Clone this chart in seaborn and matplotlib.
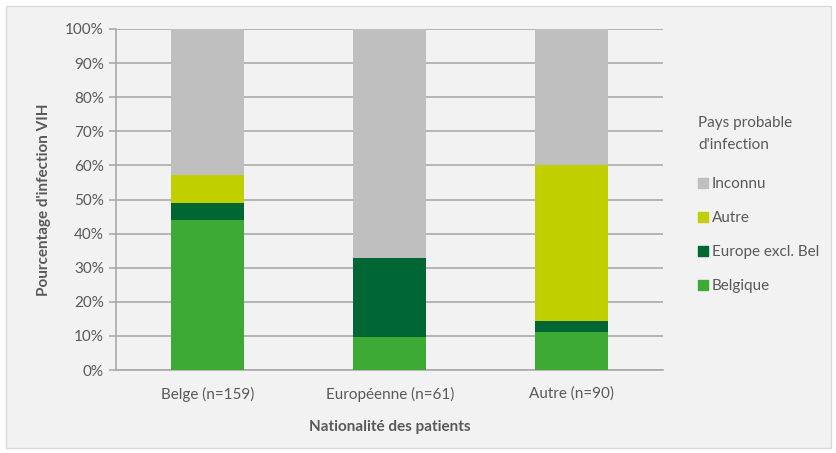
import matplotlib
matplotlib.use("Agg")
import matplotlib.pyplot as plt
from matplotlib.patches import Rectangle
from matplotlib.lines import Line2D
from matplotlib.ticker import PercentFormatter, MultipleLocator
import seaborn as sns
import pandas as pd
import numpy as np

categories = ["Belge (n=159)", "Européenne (n=61)", "Autre (n=90)"]
series_names = ["Belgique", "Europe excl. Bel", "Autre", "Inconnu"]
belgique = [44.0, 9.8, 11.1]
europe = [5.0, 23.0, 3.3]
autre = [8.2, 0.0, 45.6]
inconnu = [42.8, 67.2, 40.0]
colors = {"Belgique": "#3daa35", "Europe excl. Bel": "#006633",
          "Autre": "#bfcf00", "Inconnu": "#bfbfbf"}

txt = "#595959"
sns.set_theme(style="white")
plt.rcParams["font.family"] = ["Lato", "DejaVu Sans"]
fs = 11

fig = plt.figure(figsize=(8.37, 4.53), dpi=100)
fig.patch.set_facecolor("white")
fig.patches.append(Rectangle((6/837, 5/453), 825/837, 442/453, transform=fig.transFigure,
                             facecolor="#f2f2f2", edgecolor="#d9d9d9", lw=1, zorder=-10))
ax = fig.add_axes([116.5/837, 1-370/453, (663-116.5)/837, (370-29)/453])
ax.set_facecolor("none")

vals = {"Belgique": belgique, "Europe excl. Bel": europe, "Autre": autre, "Inconnu": inconnu}
cum = np.zeros(len(categories))
layers = []
for s in series_names:
    cum = cum + np.array(vals[s])
    layers.append((s, cum.copy()))
for s, c in reversed(layers):
    df = pd.DataFrame({"cat": categories, "val": c})
    sns.barplot(data=df, x="cat", y="val", color=colors[s], width=0.4,
                ax=ax, zorder=3, saturation=1, linewidth=0)

ax.set_ylim(0, 100)
ax.set_xlim(-0.5, 2.5)
ax.yaxis.set_major_locator(MultipleLocator(10))
ax.yaxis.set_major_formatter(PercentFormatter(decimals=0))
ax.set_axisbelow(True)
ax.grid(axis="y", color="#aaaaaa", lw=1.2, zorder=0)
for sp in ["top", "right"]:
    ax.spines[sp].set_visible(False)
for sp in ["left", "bottom"]:
    ax.spines[sp].set_color("#aaaaaa")
    ax.spines[sp].set_linewidth(1.2)
ax.tick_params(axis="y", length=5, color="#aaaaaa", width=1.2, labelsize=fs, labelcolor=txt, pad=4, left=True)
ax.tick_params(axis="x", length=0, labelsize=fs, labelcolor=txt, pad=12)
ax.set_xlabel("Nationalité des patients", fontsize=fs, fontweight="bold", color=txt, labelpad=13)
ax.set_ylabel("Pourcentage d'infection VIH", fontsize=fs, fontweight="bold", color=txt, labelpad=10)

handles = [Line2D([], [], marker="s", ls="none", color=colors[s], markersize=7)
           for s in ["Inconnu", "Autre", "Europe excl. Bel", "Belgique"]]
leg = fig.legend(handles, ["Inconnu", "Autre", "Europe excl. Bel", "Belgique"],
                 title="Pays probable\nd'infection", loc="upper left",
                 bbox_to_anchor=(692/837, 1-110/453), frameon=False, fontsize=fs,
                 title_fontsize=fs, alignment="left", handlelength=0.7, handletextpad=0.2,
                 labelspacing=1.3, borderaxespad=0)
leg.get_title().set_color(txt)
leg.get_title().set_linespacing(1.75)
leg._legend_box.sep = 18
for t in leg.get_texts():
    t.set_color(txt)

fig.savefig("out.png", dpi=100, facecolor=fig.get_facecolor())
